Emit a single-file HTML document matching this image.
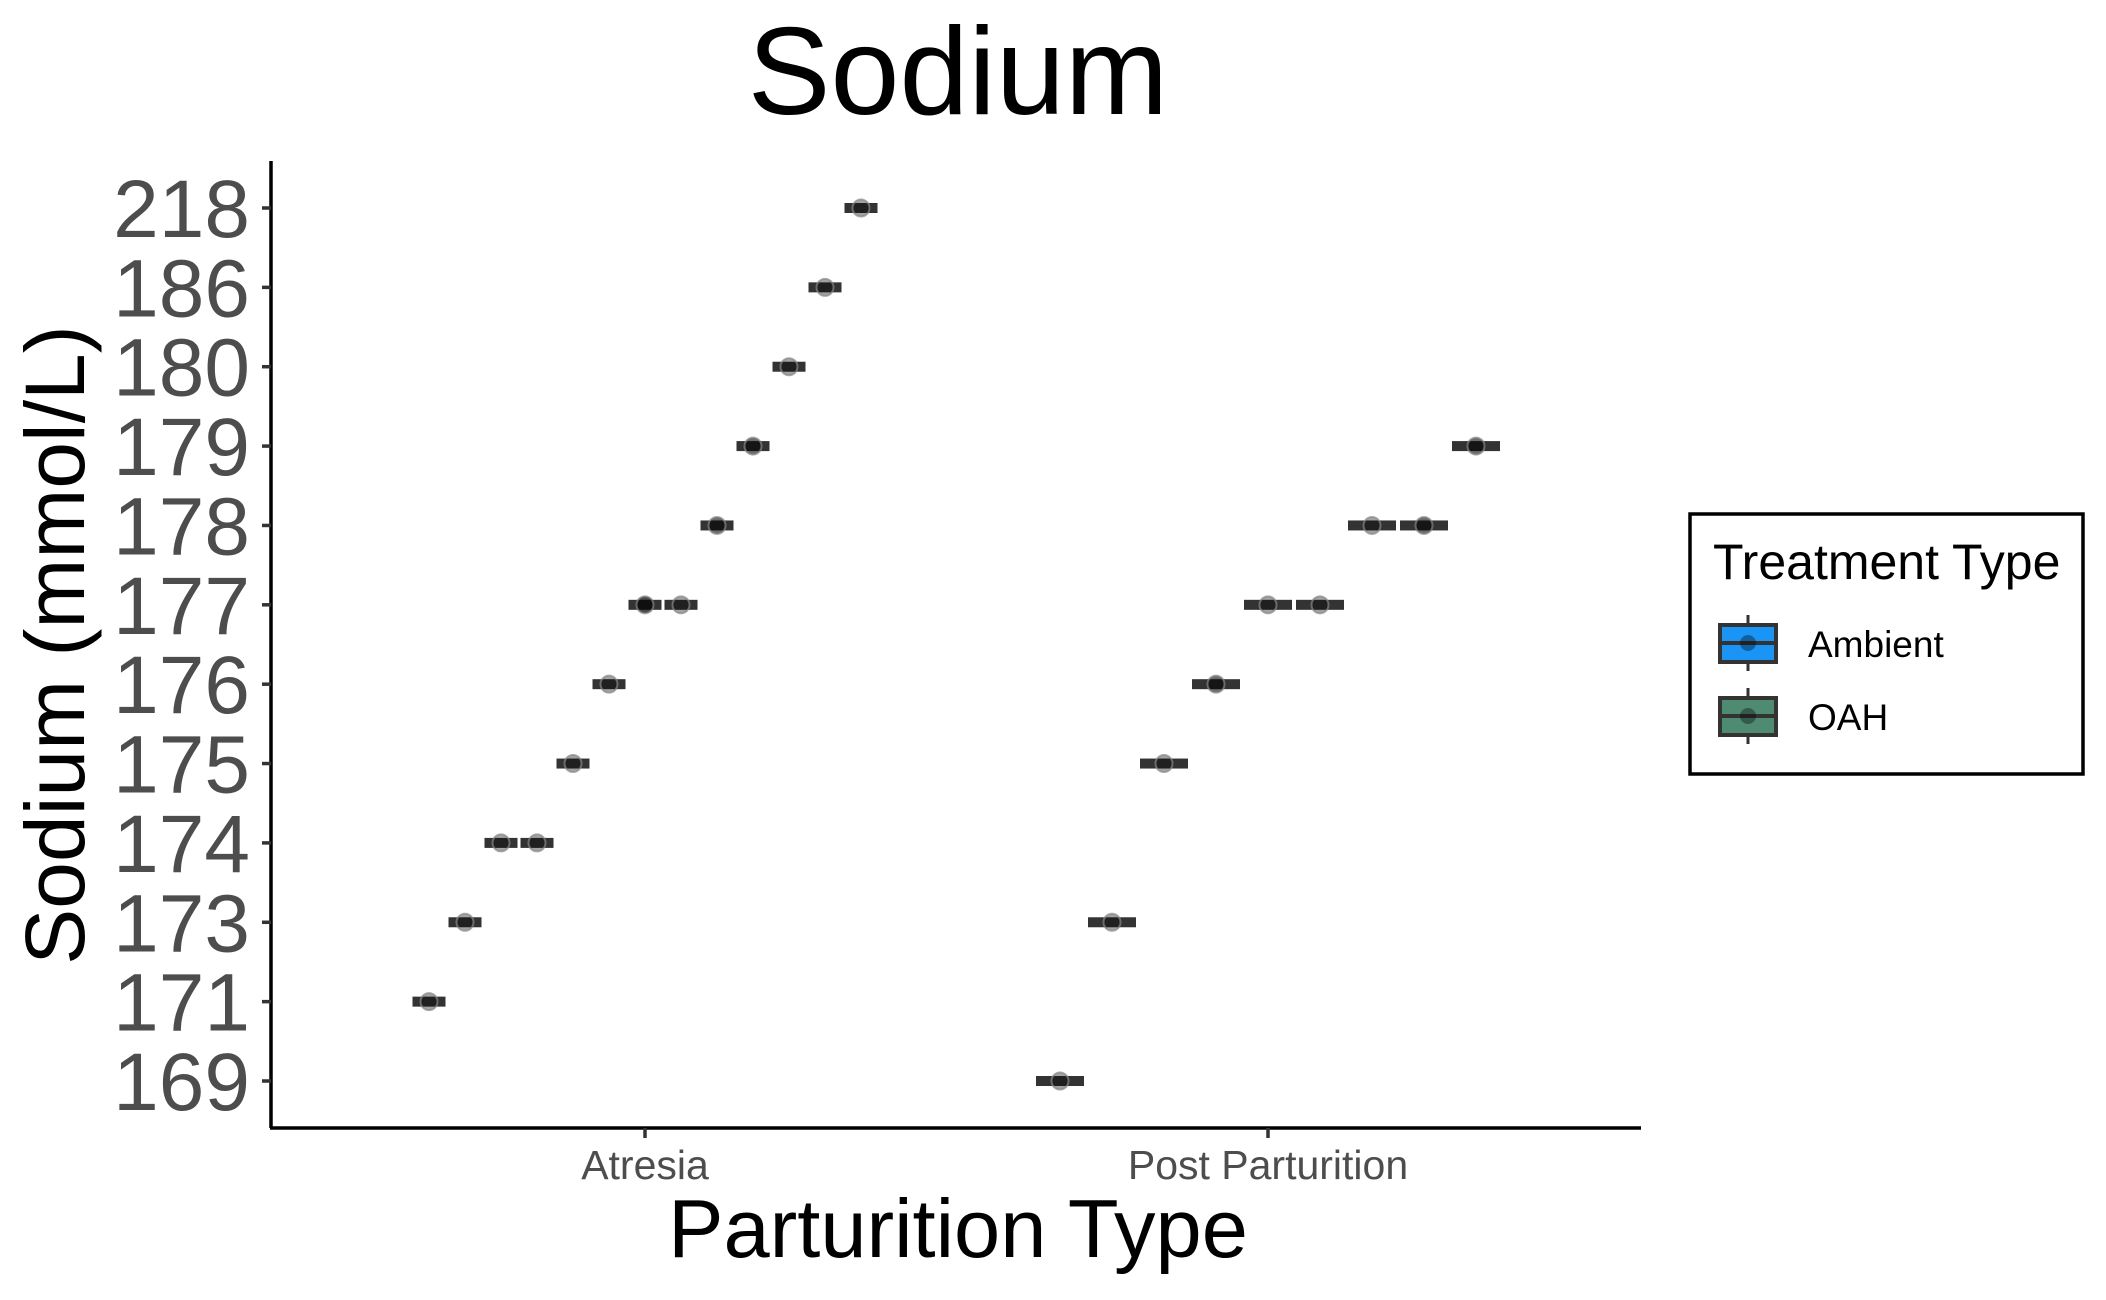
<!DOCTYPE html>
<html><head><meta charset="utf-8"><style>
html,body{margin:0;padding:0;background:#fff;}
svg{display:block;font-family:"Liberation Sans",sans-serif;}
</style></head><body>
<svg id="chart" width="2106" height="1300" viewBox="0 0 2106 1300">
<text x="958" y="114" font-size="124" text-anchor="middle" fill="#000">Sodium</text>
<g id="axes"></g>
<g id="marks"></g>
<text x="958" y="1257" font-size="83" text-anchor="middle" fill="#000">Parturition Type</text>
<text transform="translate(84,645) rotate(-90)" font-size="84" text-anchor="middle" fill="#000">Sodium (mmol/L)</text>
<g>
<rect x="1690" y="514" width="393" height="260" fill="#fff" stroke="#000" stroke-width="3.5"/>
<text x="1713" y="579" font-size="50" fill="#000">Treatment Type</text>
<g>
<line x1="1748" y1="615" x2="1748" y2="671" stroke="#333" stroke-width="3"/>
<rect x="1720" y="625" width="56" height="37" fill="#1a94f5" stroke="#333" stroke-width="4"/>
<line x1="1720" y1="643" x2="1776" y2="643" stroke="#333" stroke-width="4"/>
<circle cx="1748" cy="643" r="8" fill="#000" fill-opacity="0.35"/>
<text x="1808" y="657" font-size="37" fill="#000">Ambient</text>
</g>
<g>
<line x1="1748" y1="688" x2="1748" y2="744" stroke="#333" stroke-width="3"/>
<rect x="1720" y="698" width="56" height="37" fill="#4f8a72" stroke="#333" stroke-width="4"/>
<line x1="1720" y1="716" x2="1776" y2="716" stroke="#333" stroke-width="4"/>
<circle cx="1748" cy="716" r="8" fill="#000" fill-opacity="0.35"/>
<text x="1808" y="730" font-size="37" fill="#000">OAH</text>
</g>
</g>
</svg>
<script>
const yLevels = ["169","171","173","174","175","176","177","178","179","180","186","218"];
const xCategories = ["Atresia","Post Parturition"];
const atresiaValues = ["171","173","174","174","175","176","177","177","178","179","180","186","218"];
const atresiaOverlap = [1,1,1,1,1,1,3,1,2,2,1,1,1];
const postValues = ["169","173","175","176","177","177","178","178","179"];
const postOverlap = [1,1,1,2,1,1,1,2,2];

const NS="http://www.w3.org/2000/svg";
const X0=271, X1=1641, Y0=161, YB=1128;
function yScale(v){const i=yLevels.indexOf(v);return 1081-i*(1081-208)/(yLevels.length-1);}
function xScale(c){return c===xCategories[0]?645:1268;}
function mk(tag,attrs,parent){const e=document.createElementNS(NS,tag);for(const k in attrs)e.setAttribute(k,attrs[k]);parent.appendChild(e);return e;}
const axes=document.getElementById('axes'), marks=document.getElementById('marks');

const yAxis=mk('line',{x1:X0,y1:Y0,x2:X0,y2:YB,stroke:'#000','stroke-width':3.5},axes);


const xAxis=mk('line',{x1:X0-1,y1:YB,x2:X1,y2:YB,stroke:'#000','stroke-width':3.5},axes);



yLevels.forEach(v=>{
  const y=yScale(v);
  const t=mk('line',{x1:X0-9,y1:y,x2:X0,y2:y,stroke:'#333','stroke-width':3.5},axes);
  
  
  const l=mk('text',{x:250,y:y+29,'font-size':82,'text-anchor':'end',fill:'#4d4d4d'},axes);
  l.textContent=v;
  
  
});
xCategories.forEach(c=>{
  const x=xScale(c);
  const t=mk('line',{x1:x,y1:YB,x2:x,y2:YB+10,stroke:'#333','stroke-width':3.5},axes);
  
  
  const l=mk('text',{x:x,y:1179,'font-size':41,'text-anchor':'middle',fill:'#4d4d4d'},axes);
  l.textContent=c;
  
  
});

function drawGroup(cat,vals,overlap,step,bw){
  const cx=xScale(cat), n=vals.length;
  vals.forEach((v,i)=>{
    const x=cx+(i-(n-1)/2)*step, y=yScale(v);
    const b=mk('rect',{x:x-bw/2,y:y-5,width:bw,height:10,fill:'#333'},marks);
    
    
    const op=1-Math.pow(0.6,overlap[i]);
    const p=mk('circle',{cx:x,cy:y,r:8.5,fill:'#000','fill-opacity':op*0.9,stroke:'#888','stroke-opacity':0.7,'stroke-width':2},marks);
    
    
  });
}
drawGroup(xCategories[0],atresiaValues,atresiaOverlap,36,33);
drawGroup(xCategories[1],postValues,postOverlap,52,48);
</script>
</body></html>
